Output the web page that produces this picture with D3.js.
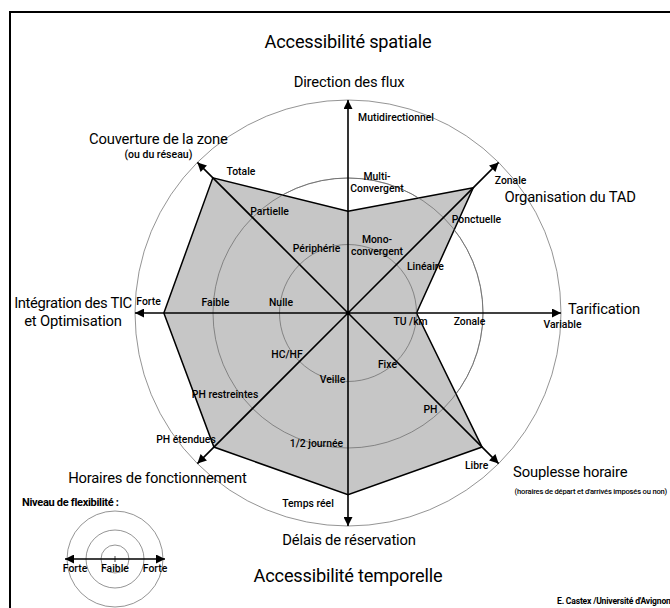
<!DOCTYPE html>
<html lang="fr">
<head>
<meta charset="utf-8">
<title>Accessibilité spatiale et temporelle du TAD</title>
<script src="https://d3js.org/d3.v7.min.js"></script>
<style>
  body { margin: 0; background: #fff; }
  svg { display: block; font-family: Roboto, "Open Sans", sans-serif; }
  .ring { fill: none; stroke: #666; stroke-width: 0.7; }
  .axis { stroke: #000; stroke-width: 1.6; }
  .shape { fill: #c6c6c6; stroke: #000; stroke-width: 1.5; stroke-linejoin: miter; }
  .lvl { font-size: 10.4px; font-weight: 500; fill: #000; }
  .ttl { font-size: 14.8px; fill: #000; letter-spacing: -0.2px; }
  .sub { font-size: 7.6px; font-weight: 500; fill: #000; letter-spacing: -0.2px; }
</style>
</head>
<body>
<svg id="chart" width="670" height="608"></svg>
<script>
// axes of the diagram, clockwise from the top
var axes = ["Direction des flux", "Organisation du TAD", "Tarification", "Souplesse horaire",
            "Délais de réservation", "Horaires de fonctionnement", "Intégration des TIC", "Couverture de la zone"];
var axisSub = ["", "", "", "(horaires de départ et d'arrivés imposés ou non)", "", "", "et Optimisation", "(ou du réseau)"];
// three flexibility levels per axis (inner -> outer)
var levels = [
  ["Mono-\nconvergent", "Multi-\nConvergent", "Mutidirectionnel"],
  ["Linéaire", "Ponctuelle", "Zonale"],
  ["TU /km", "Zonale", "Variable"],
  ["Fixe", "PH", "Libre"],
  ["Veille", "1/2 journée", "Temps réel"],
  ["HC/HF", "PH restreintes", "PH étendues"],
  ["Nulle", "Faible", "Forte"],
  ["Périphérie", "Partielle", "Totale"]
];
// position of the TAD on each axis, in level units (0..3)
var values = [1.5, 2.54, 1.0, 2.7, 2.6, 2.7, 2.63, 2.72];

var legendLabels = ["Forte", "Faible", "Forte"];

var svg = d3.select("#chart");
var cx = 348, cy = 313;
var r = d3.scaleLinear().domain([0, 1, 2, 3]).range([0, 68.5, 135, 213]);
var ang = d3.scaleLinear().domain([0, axes.length]).range([0, 2 * Math.PI]);

function pt(i, v) {
  var a = ang(i), d = r(v);
  return [cx + d * Math.sin(a), cy - d * Math.cos(a)];
}

// arrow marker
svg.append("defs").append("marker")
  .attr("id", "arr").attr("viewBox", "0 0 10 10").attr("refX", 10).attr("refY", 5)
  .attr("markerUnits", "userSpaceOnUse").attr("markerWidth", 13).attr("markerHeight", 9)
  .attr("orient", "auto")
  .append("path").attr("d", "M0,0 L10,5 L0,10 Z").attr("fill", "#000");

// frame
svg.append("path").attr("d", "M10,620 V12 H690").attr("fill", "none")
  .attr("stroke", "#000").attr("stroke-width", 2);

// level rings
svg.selectAll("circle.ring").data([1, 2, 3]).join("circle")
  .attr("class", "ring").attr("cx", cx).attr("cy", cy).attr("r", d => r(d));

// filled shape
var line = d3.line().curve(d3.curveLinearClosed);
svg.append("path").attr("class", "shape")
  .attr("d", line(values.map((v, i) => pt(i, v))));

// rings visible over the fill
svg.selectAll("circle.ring2").data([1, 2]).join("circle")
  .attr("class", "ring").attr("cx", cx).attr("cy", cy).attr("r", d => r(d));

// axes with arrows
svg.selectAll("line.axis").data(axes).join("line")
  .attr("class", "axis")
  .attr("x1", cx).attr("y1", cy)
  .attr("x2", (d, i) => pt(i, 3)[0]).attr("y2", (d, i) => pt(i, 3)[1])
  .attr("marker-end", "url(#arr)");
svg.append("circle").attr("cx", cx).attr("cy", cy).attr("r", 2).attr("fill", "#000");

// label nudges (layout only) relative to the level point on the axis
var nudge = [
  [[29, -1.5], [29, 2], [48, 21]],
  [[29, 5], [33, 5], [12, 22]],
  [[-6, 12], [-13.5, 12], [1.5, 15]],
  [[-9, 7], [-13, 5], [-22, 5]],
  [[-15.5, 1.5], [-31.5, -1], [-40, -19]],
  [[-12.6, -3], [-27.5, -10.5], [-11.4, -20.6]],
  [[1.5, -7], [2.5, -7], [13.5, -8]],
  [[17, -12.6], [17, -2.5], [43.6, 12.6]]
];
levels.forEach(function(lv, i) {
  lv.forEach(function(txt, k) {
    var p = pt(i, k + 1);
    var t = svg.append("text").attr("class", "lvl").attr("text-anchor", "middle")
      .attr("x", p[0] + nudge[i][k][0]).attr("y", p[1] + nudge[i][k][1]);
    txt.split("\n").forEach(function(s, j) {
      t.append("tspan").attr("x", p[0] + nudge[i][k][0]).attr("dy", j ? 12 : 0).text(s);
    });
  });
});

// axis titles relative to the arrow tip
var titleOff = [
  [1, -13, "middle"], [71.5, 40, "middle"], [7, 1, "start"], [14.5, 13, "start"],
  [1, 19, "middle"], [-40, 19, "middle"], [-62, -5, "middle"], [-39, -18, "middle"]
];
var subOff = [null, null, null, [16, 30, "start"], null, null, [-62, 13, "middle"], [-39, -4, "middle"]];
axes.forEach(function(a, i) {
  var p = pt(i, 3);
  var tt = svg.append("text").attr("class", "ttl").attr("text-anchor", titleOff[i][2])
    .attr("x", p[0] + titleOff[i][0]).attr("y", p[1] + titleOff[i][1]).text(a);
  if (i === 6) tt.style("letter-spacing", "-0.35px");
  if (axisSub[i]) {
    var s = subOff[i];
    var st = svg.append("text").attr("class", i === 6 ? "ttl" : "sub").attr("text-anchor", s[2])
      .attr("x", p[0] + s[0]).attr("y", p[1] + s[1]).text(axisSub[i]);
    if (i === 7) st.style("font-size", "10.5px").style("letter-spacing", "0px");
  }
});

// section titles
svg.append("text").attr("class", "ttl").attr("text-anchor", "middle")
  .attr("x", cx).attr("y", 48).style("font-size", "18.2px").text("Accessibilité spatiale");
svg.append("text").attr("class", "ttl").attr("text-anchor", "middle")
  .attr("x", cx).attr("y", 582).style("font-size", "18.2px").text("Accessibilité temporelle");
svg.append("text").attr("class", "sub").attr("x", 557).attr("y", 604)
  .style("font-size", "8.6px").style("font-weight", 700).text("E. Castex /Université d'Avignon");

// legend
var lx = 115, ly = 559;
var lr = d3.scaleLinear().domain([0, 1, 2, 3]).range([0, 14, 29, 48]);
var lg = svg.append("g");
lg.append("text").attr("class", "lvl").attr("x", 22).attr("y", 506)
  .style("font-size", "11px").style("font-weight", 700).style("letter-spacing", "-0.3px")
  .text("Niveau de flexibilité :");
lg.selectAll("circle").data([1, 2, 3]).join("circle")
  .attr("class", "ring").attr("cx", lx).attr("cy", ly).attr("r", d => lr(d));
lg.append("line").attr("class", "axis").attr("x1", lx).attr("y1", ly)
  .attr("x2", lx + lr(3) + 2).attr("y2", ly).attr("marker-end", "url(#arr)");
lg.append("line").attr("class", "axis").attr("x1", lx).attr("y1", ly)
  .attr("x2", lx - lr(3) - 2).attr("y2", ly).attr("marker-end", "url(#arr)");
lg.append("line").attr("stroke", "#000").attr("stroke-width", 0.7)
  .attr("x1", lx).attr("x2", lx).attr("y1", ly - 3).attr("y2", ly + 3);
lg.selectAll("text.leg").data(legendLabels).join("text")
  .attr("class", "lvl").attr("text-anchor", "middle")
  .attr("x", (d, i) => lx + (i - 1) * 40).attr("y", 572).text(d => d);
</script>
</body>
</html>
